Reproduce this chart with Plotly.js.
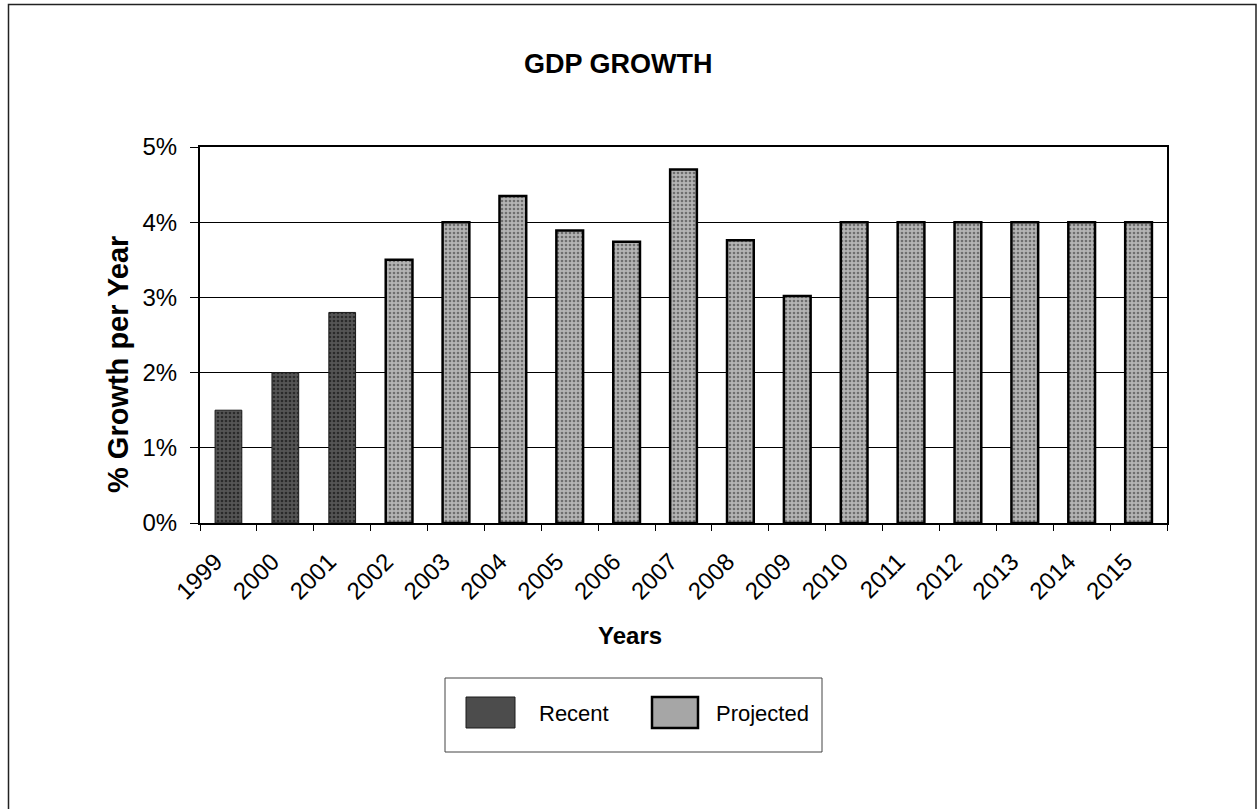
<!DOCTYPE html>
<html>
<head>
<meta charset="utf-8">
<script src="https://cdn.plot.ly/plotly-3.0.1.min.js"></script>
<style>
  html, body { margin: 0; padding: 0; background: #ffffff; }
  #chart { width: 1258px; height: 809px; }
</style>
</head>
<body>
<div id="chart"></div>
<script>
// ---- data ----
const years = ['1999','2000','2001','2002','2003','2004','2005','2006','2007','2008','2009','2010','2011','2012','2013','2014','2015'];
const recentValues = [1.50, 2.00, 2.80, null, null, null, null, null, null, null, null, null, null, null, null, null, null];
const projectedValues = [null, null, null, 3.50, 4.00, 4.35, 3.89, 3.74, 4.70, 3.76, 3.02, 4.00, 4.00, 4.00, 4.00, 4.00, 4.00];
const yTickValues = [0, 1, 2, 3, 4, 5];
const yTickLabels = ['0%', '1%', '2%', '3%', '4%', '5%'];
const seriesNames = ['Recent', 'Projected'];
const chartTitle = 'GDP GROWTH';
const xTitle = 'Years';
const yTitle = '% Growth per Year';

// ---- layout geometry (pixels) ----
const W = 1258, H = 809;
const L = 200, R = 1167, T = 147, B = 523;
const px = x => (x - L) / (R - L);
const py = y => (B - y) / (B - T);

const FONT = 'Liberation Sans, Arial, Helvetica, sans-serif';
const recentColor = '#4c4c4c';
const projColor = '#a6a6a6';

const traces = [
  {
    type: 'bar', name: seriesNames[0], x: years, y: recentValues,
    marker: {
      color: recentColor,
      line: { color: '#1a1a1a', width: 1 },
      pattern: { shape: '.', bgcolor: '#555555', fgcolor: '#2a2a2a', size: 4, solidity: 0.35 }
    },
    showlegend: false, hoverinfo: 'x+y'
  },
  {
    type: 'bar', name: seriesNames[1], x: years, y: projectedValues,
    marker: {
      color: projColor,
      line: { color: '#000000', width: 2.5 },
      pattern: { shape: '.', bgcolor: '#b4b4b4', fgcolor: '#6e6e6e', size: 4, solidity: 0.35 }
    },
    showlegend: false, hoverinfo: 'x+y'
  }
];

const layout = {
  width: W, height: H,
  margin: { l: L, r: W - R, t: T, b: H - B, pad: 0 },
  paper_bgcolor: '#ffffff',
  plot_bgcolor: '#ffffff',
  font: { family: FONT, color: '#000000', size: 22 },
  barmode: 'overlay',
  bargap: 0.53,
  showlegend: false,
  xaxis: {
    type: 'category',
    tickangle: -45,
    ticks: 'outside', ticklen: 6, tickcolor: '#000', tickwidth: 1,
    tickson: 'boundaries',
    tickfont: { family: FONT, size: 24, color: '#000' },
    showline: true, linecolor: '#000', linewidth: 2, mirror: true,
    showgrid: false, zeroline: false,
    ticklabelstandoff: 13,
    ticklabelshift: -13
  },
  yaxis: {
    range: [0, 5],
    tickvals: yTickValues, ticktext: yTickLabels,
    ticks: 'outside', ticklen: 8, tickcolor: '#000', tickwidth: 1,
    tickfont: { family: FONT, size: 24, color: '#000' },
    ticklabelstandoff: 8,
    showline: true, linecolor: '#000', linewidth: 2, mirror: true,
    showgrid: true, gridcolor: '#000', gridwidth: 1.2,
    zeroline: false
  },
  shapes: [
    // outer chart frame
    { type: 'rect', xref: 'paper', yref: 'paper',
      x0: px(8.5), x1: px(1256), y0: py(820), y1: py(4.5),
      line: { color: '#222', width: 1.5 }, fillcolor: 'rgba(0,0,0,0)', layer: 'below' },
    // legend box
    { type: 'rect', xref: 'paper', yref: 'paper',
      x0: px(445), x1: px(822), y0: py(752), y1: py(678),
      line: { color: '#444', width: 1 }, fillcolor: 'rgba(0,0,0,0)' },
    // legend swatches
    { type: 'rect', xref: 'paper', yref: 'paper',
      x0: px(466), x1: px(515), y0: py(728), y1: py(697),
      line: { color: '#1a1a1a', width: 1 }, fillcolor: recentColor },
    { type: 'rect', xref: 'paper', yref: 'paper',
      x0: px(652), x1: px(698), y0: py(728), y1: py(697),
      line: { color: '#000', width: 2.5 }, fillcolor: projColor }
  ],
  annotations: [
    { text: '<b>' + chartTitle + '</b>', xref: 'paper', yref: 'paper',
      x: px(618), y: py(64), xanchor: 'center', yanchor: 'middle', showarrow: false,
      font: { family: FONT, size: 27, color: '#000' } },
    { text: '<b>' + xTitle + '</b>', xref: 'paper', yref: 'paper',
      x: px(630), y: py(635), xanchor: 'center', yanchor: 'middle', showarrow: false,
      font: { family: FONT, size: 24, color: '#000' } },
    { text: '<b>' + yTitle + '</b>', xref: 'paper', yref: 'paper',
      x: px(118), y: py(365), xanchor: 'center', yanchor: 'middle', showarrow: false,
      textangle: -90,
      font: { family: FONT, size: 29, color: '#000' } },
    { text: seriesNames[0], xref: 'paper', yref: 'paper',
      x: px(537), y: py(713), xanchor: 'left', yanchor: 'middle', showarrow: false,
      font: { family: FONT, size: 22, color: '#000' } },
    { text: seriesNames[1], xref: 'paper', yref: 'paper',
      x: px(714), y: py(713), xanchor: 'left', yanchor: 'middle', showarrow: false,
      font: { family: FONT, size: 22, color: '#000' } }
  ]
};

Plotly.newPlot('chart', traces, layout, { displayModeBar: false, staticPlot: true });
</script>
</body>
</html>
